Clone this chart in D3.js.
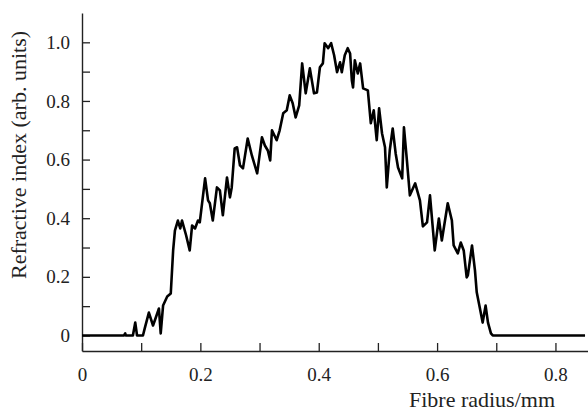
<!DOCTYPE html>
<html>
<head>
<meta charset="utf-8">
<script src="https://cdn.jsdelivr.net/npm/d3@7"></script>
<style>
  body { margin: 0; background: #fff; }
  svg text { font-family: "Liberation Serif", "Times New Roman", serif !important; fill: #222; }
</style>
</head>
<body>
<div id="wrapper"></div>
<script>
// fibre radius (mm) and refractive index (arb. units)
const radius = [
  0.000, 0.071, 0.073, 0.074, 0.086, 0.090, 0.093, 0.103, 0.106, 0.113,
  0.120, 0.123, 0.130, 0.133, 0.137, 0.144, 0.150, 0.154, 0.157, 0.162,
  0.166, 0.169, 0.176, 0.182, 0.186, 0.191, 0.196, 0.199, 0.208, 0.213,
  0.216, 0.221, 0.228, 0.233, 0.238, 0.245, 0.250, 0.253, 0.258, 0.262,
  0.267, 0.272, 0.280, 0.287, 0.296, 0.304, 0.309, 0.314, 0.318, 0.321,
  0.329, 0.334, 0.340, 0.346, 0.351, 0.356, 0.361, 0.367, 0.372, 0.378,
  0.385, 0.392, 0.397, 0.402, 0.407, 0.410, 0.416, 0.421, 0.426, 0.431,
  0.436, 0.439, 0.444, 0.449, 0.453, 0.456, 0.458, 0.461, 0.466, 0.470,
  0.475, 0.483, 0.488, 0.493, 0.498, 0.502, 0.507, 0.512, 0.515, 0.520,
  0.525, 0.530, 0.534, 0.541, 0.544, 0.549, 0.554, 0.563, 0.571, 0.576,
  0.583, 0.588, 0.596, 0.603, 0.608, 0.618, 0.625, 0.628, 0.635, 0.640,
  0.645, 0.650, 0.652, 0.659, 0.664, 0.667, 0.672, 0.677, 0.682, 0.686,
  0.691, 0.694, 0.850
];
const index = [
  0.000, 0.000, 0.007, 0.000, 0.000, 0.044, 0.000, 0.000, 0.024, 0.078,
  0.034, 0.051, 0.092, 0.007, 0.102, 0.133, 0.143, 0.290, 0.358, 0.392,
  0.365, 0.392, 0.341, 0.290, 0.375, 0.365, 0.392, 0.386, 0.536, 0.461,
  0.451, 0.392, 0.505, 0.495, 0.410, 0.539, 0.471, 0.505, 0.638, 0.642,
  0.580, 0.570, 0.672, 0.614, 0.553, 0.676, 0.648, 0.631, 0.597, 0.700,
  0.666, 0.700, 0.758, 0.768, 0.819, 0.792, 0.744, 0.785, 0.928, 0.826,
  0.911, 0.826, 0.829, 0.915, 0.928, 0.997, 0.980, 0.997, 0.956, 0.898,
  0.932, 0.898, 0.956, 0.980, 0.962, 0.870, 0.846, 0.939, 0.894, 0.928,
  0.843, 0.836, 0.724, 0.768, 0.666, 0.775, 0.689, 0.642, 0.505, 0.631,
  0.706, 0.621, 0.573, 0.536, 0.710, 0.597, 0.478, 0.519, 0.461, 0.372,
  0.386, 0.478, 0.290, 0.399, 0.324, 0.451, 0.392, 0.307, 0.280, 0.317,
  0.290, 0.198, 0.205, 0.307, 0.222, 0.147, 0.096, 0.044, 0.102, 0.044,
  0.007, 0.000, 0.000
];

const xTicks = [0, 0.1, 0.2, 0.3, 0.4, 0.5, 0.6, 0.7, 0.8];
const xTickLabels = ["0", "", "0.2", "", "0.4", "", "0.6", "", "0.8"];
const yTicks = [0, 0.1, 0.2, 0.3, 0.4, 0.5, 0.6, 0.7, 0.8, 0.9, 1.0];
const yTickLabels = ["0", "", "0.2", "", "0.4", "", "0.6", "", "0.8", "", "1.0"];

const xTitle = "Fibre radius/mm";
const yTitle = "Refractive index (arb. units)";

const data = radius.map((r, i) => ({ r: r, n: index[i] }));

const serif = '"Liberation Serif", "Times New Roman", serif';

const dimension = {
    width: 588,
    height: 410,
    margin: { top: 13, left: 82, bottom: 59, right: 0 }
};
dimension.boundedWidth = dimension.width - dimension.margin.left - dimension.margin.right;
dimension.boundedHeight = dimension.height - dimension.margin.top - dimension.margin.bottom;

const svg = d3.select("#wrapper").append("svg")
    .attr("width", dimension.width)
    .attr("height", dimension.height);

const bounded = svg.append("g")
    .attr("transform", `translate(${dimension.margin.left},${dimension.margin.top})`);

const xScaler = d3.scaleLinear()
    .domain([0, 0.855])
    .range([0, dimension.boundedWidth]);

const yScaler = d3.scaleLinear()
    .domain([-0.053, 1.1])
    .range([dimension.boundedHeight, 0]);

// axes, ticks pointing inward
const xAxis = d3.axisBottom(xScaler)
    .tickValues(xTicks)
    .tickFormat((d, i) => xTickLabels[i])
    .tickSizeInner(-8)
    .tickSizeOuter(0)
    .tickPadding(17);

const yAxis = d3.axisLeft(yScaler)
    .tickValues(yTicks)
    .tickFormat((d, i) => yTickLabels[i])
    .tickSizeInner(-8)
    .tickSizeOuter(0)
    .tickPadding(12);

const xAxisGroup = bounded.append("g")
    .attr("transform", `translate(0,${dimension.boundedHeight})`)
    .call(xAxis);

const yAxisGroup = bounded.append("g")
    .call(yAxis);

[xAxisGroup, yAxisGroup].forEach(g => {
    g.attr("font-family", serif).attr("font-size", 19);
    g.select(".domain").attr("stroke", "#222").attr("stroke-width", 1.4);
    g.selectAll(".tick line").attr("stroke", "#222").attr("stroke-width", 1.3);
    g.selectAll(".tick text")
        .style("font-family", serif)
        .style("font-size", "19px")
        .attr("fill", "#222");
});

// profile
const line = d3.line()
    .x(d => xScaler(d.r))
    .y(d => yScaler(d.n));

bounded.append("path")
    .datum(data)
    .attr("d", line)
    .attr("fill", "none")
    .attr("stroke", "#000")
    .attr("stroke-width", 2.6)
    .attr("stroke-linejoin", "round");

// titles
svg.append("text")
    .attr("x", 555)
    .attr("y", 406.5)
    .attr("text-anchor", "end")
    .style("font-size", "22px")
    .text(xTitle);

svg.append("text")
    .attr("transform", "translate(26,155) rotate(-90)")
    .attr("text-anchor", "middle")
    .style("font-size", "22px")
    .text(yTitle);
</script>
</body>
</html>
